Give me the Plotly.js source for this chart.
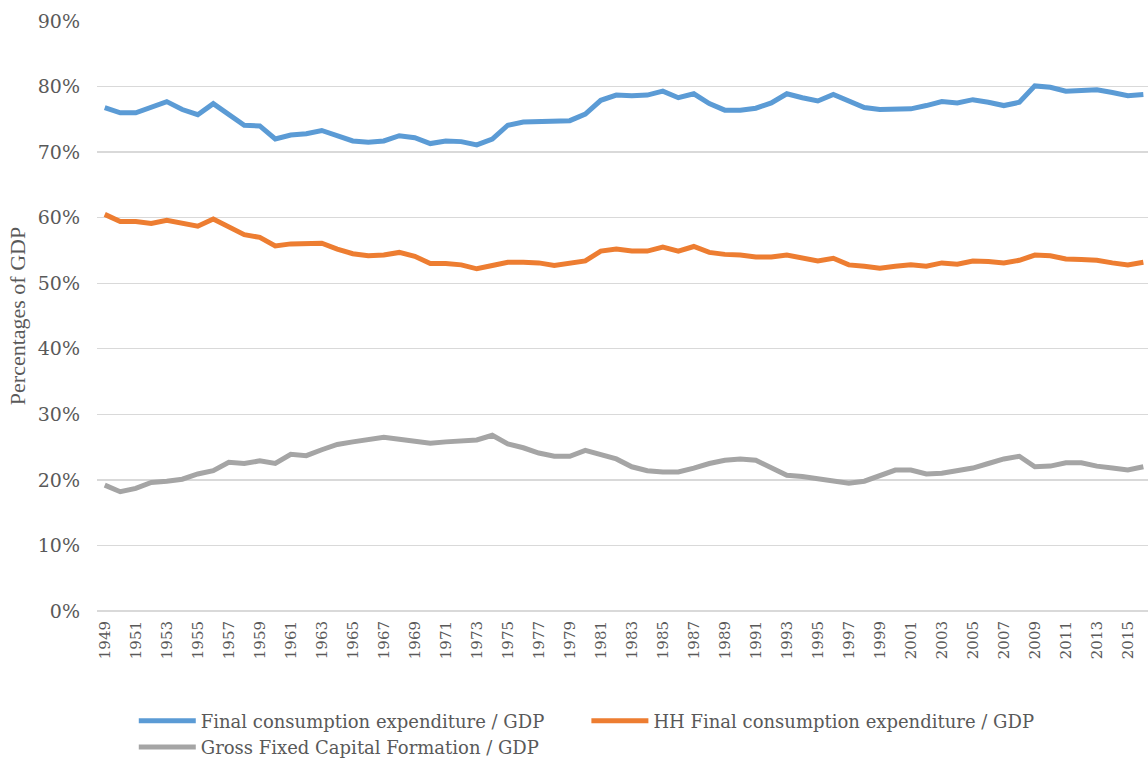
<!DOCTYPE html>
<html>
<head>
<meta charset="utf-8">
<script src="https://cdn.plot.ly/plotly-3.0.1.min.js"></script>
<style>html,body{margin:0;padding:0;background:#fff;}#chart{width:1148px;height:761px;}</style>
</head>
<body>
<div id="chart"></div>
<script>
const years = [];
for (let y = 1949; y <= 2016; y++) years.push(y);

const finalConsumption = [
  76.8, 76.0, 76.0, 76.8, 77.7, 76.5, 75.7, 77.4, 75.8, 74.1,
  74.0, 72.0, 72.6, 72.8, 73.3, 72.4, 71.7, 71.5, 71.7, 72.5,
  72.2, 71.3, 71.7, 71.6, 71.1, 72.0, 74.1, 74.6, 74.7, 74.7,
  74.8, 75.8, 77.9, 78.7, 78.6, 78.7, 79.3, 78.3, 78.9, 77.4,
  76.4, 76.4, 76.7, 77.5, 78.9, 78.3, 77.8, 78.8, 77.8, 76.8,
  76.5, 76.5, 76.6, 77.1, 77.7, 77.5, 78.0, 77.6, 77.1, 77.6,
  80.1, 79.9, 79.3, 79.4, 79.5, 79.1, 78.6, 78.8
];

const hhConsumption = [
  60.5, 59.4, 59.4, 59.1, 59.6, 59.1, 58.7, 59.8, 58.6, 57.4,
  57.0, 55.7, 56.0, 56.0, 56.1, 55.2, 54.5, 54.2, 54.3, 54.7,
  54.1, 53.0, 53.0, 52.8, 52.2, 52.7, 53.2, 53.2, 53.1, 52.7,
  53.0, 53.4, 54.9, 55.2, 54.9, 54.9, 55.5, 54.9, 55.6, 54.7,
  54.4, 54.3, 54.0, 54.0, 54.3, 53.9, 53.4, 53.8, 52.8, 52.6,
  52.3, 52.6, 52.8, 52.6, 53.1, 52.9, 53.4, 53.3, 53.1, 53.5,
  54.3, 54.2, 53.7, 53.6, 53.5, 53.1, 52.8, 53.2
];

const gfcf = [
  19.2, 18.2, 18.7, 19.6, 19.8, 20.1, 20.9, 21.4, 22.7, 22.5,
  22.9, 22.5, 23.9, 23.7, 24.6, 25.4, 25.8, 26.1, 26.5, 26.2,
  25.9, 25.6, 25.8, 25.9, 26.1, 26.8, 25.5, 24.9, 24.1, 23.6,
  23.6, 24.5, 23.9, 23.2, 22.0, 21.4, 21.2, 21.2, 21.8, 22.5,
  23.0, 23.2, 23.0, 21.9, 20.7, 20.5, 20.2, 19.9, 19.5, 19.8,
  20.7, 21.5, 21.5, 20.9, 21.0, 21.4, 21.8, 22.5, 23.2, 23.6,
  22.0, 22.1, 22.6, 22.6, 22.1, 21.8, 21.5, 22.0
];

const seriesNames = [
  'Final consumption expenditure / GDP',
  'HH Final consumption expenditure / GDP',
  'Gross Fixed Capital Formation / GDP'
];
const seriesColors = ['#5B9BD5', '#ED7D31', '#A5A5A5'];
const seriesValues = [finalConsumption, hhConsumption, gfcf];

const yTickVals = [0, 10, 20, 30, 40, 50, 60, 70, 80, 90];
const yTickText = yTickVals.map(v => v + '%');

const textColor = '#595959';

const traces = seriesValues.map((vals, i) => ({
  x: years,
  y: vals,
  type: 'scatter',
  mode: 'lines',
  name: seriesNames[i],
  line: {color: seriesColors[i], width: 5},
  hoverinfo: 'x+y'
}));

const layout = {
  width: 1148,
  height: 761,
  margin: {l: 97, r: 0, t: 21, b: 150, pad: 0, autoexpand: false},
  paper_bgcolor: '#ffffff',
  plot_bgcolor: '#ffffff',
  font: {family: 'DejaVu Serif, serif', color: textColor},
  showlegend: true,
  xaxis: {
    range: [1948.5, 2016.3],
    tickmode: 'linear',
    tick0: 1949,
    dtick: 2,
    tickangle: -90,
    showgrid: false,
    zeroline: false,
    showline: false,
    ticks: '',
    ticklabelstandoff: 6,
    tickfont: {family: 'DejaVu Serif, serif', size: 15, color: textColor},
    automargin: false,
    fixedrange: true
  },
  yaxis: {
    range: [0, 90],
    tickmode: 'array',
    tickvals: yTickVals,
    ticktext: yTickText,
    showgrid: true,
    gridcolor: '#D9D9D9',
    gridwidth: 1.3,
    zeroline: true,
    zerolinecolor: '#D9D9D9',
    zerolinewidth: 1.3,
    showline: false,
    ticks: '',
    ticklabelstandoff: 16,
    tickfont: {family: 'DejaVu Serif, serif', size: 19, color: textColor},
    title: {
      text: 'Percentages of GDP',
      font: {family: 'Liberation Serif, serif', size: 22, color: textColor},
      standoff: 6
    },
    automargin: false,
    fixedrange: true
  },
  legend: {
    orientation: 'h',
    x: 0.035,
    xanchor: 'left',
    y: -0.155,
    yanchor: 'top',
    font: {family: 'DejaVu Serif, serif', size: 18, color: textColor},
    bgcolor: 'rgba(0,0,0,0)',
    itemwidth: 57,
    tracegroupgap: 0
  }
};

Plotly.newPlot('chart', traces, layout, {displayModeBar: false, staticPlot: true});
</script>
</body>
</html>
